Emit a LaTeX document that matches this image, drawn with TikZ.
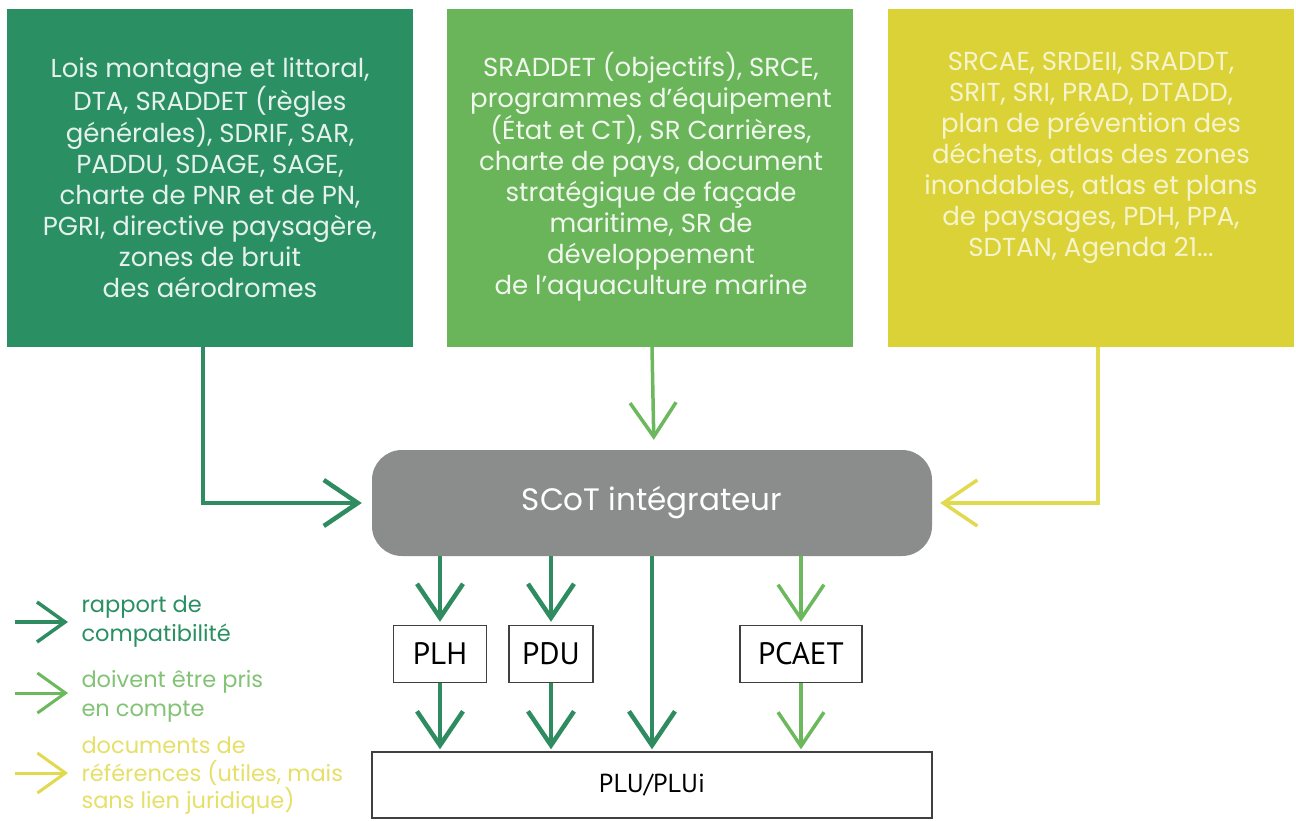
\documentclass[tikz,border=0pt]{standalone}
\usepackage{fontspec}
\setmainfont{Poppins}
\newfontfamily\narrowfont{PT Sans}
\usetikzlibrary{arrows.meta}
\definecolor{cA}{HTML}{2A8F62}
\definecolor{cB}{HTML}{6AB55A}
\definecolor{cC}{HTML}{DAD236}
\definecolor{cG}{HTML}{8A8D8C}
\definecolor{cAr}{HTML}{2E8C60}
\definecolor{cBr}{HTML}{6CB85C}
\definecolor{cCr}{HTML}{E2DA4E}
\begin{document}
\begin{tikzpicture}[x=1pt,y=-1pt,
  srcbox/.style={minimum width=406pt, minimum height=338pt, inner sep=0pt},
  boxtext/.style={align=center, font=\fontsize{26}{31}\selectfont},
  bighead/.style={-{Straight Barb[length=34pt,width=46pt]}},
  smallhead/.style={-{Straight Barb[length=28pt,width=40pt]}},
  docbox/.style={draw=black!75, line width=1.4pt, fill=white, inner sep=0pt, font=\narrowfont\fontsize{31}{31}\selectfont},
  legtext/.style={anchor=west, align=left, font=\fontsize{22.5}{29}\selectfont}
]
\useasboundingbox[fill=white] (0,0) rectangle (1296,821);

% source boxes
\node[srcbox, fill=cA] (A) at (210,178) {};
\node[srcbox, fill=cB] (B) at (650,178) {};
\node[srcbox, fill=cC] (C) at (1091,178) {};

\node[boxtext, text=white!88!cA] (At) at (210,178) {Lois montagne et littoral,\\DTA, SRADDET (règles\\générales), SDRIF, SAR,\\PADDU, SDAGE, SAGE,\\charte de PNR et de PN,\\PGRI, directive paysagère,\\zones de bruit\\des aérodromes};
\node[boxtext, text=white!90!cB] (Bt) at (651,177) {SRADDET (objectifs), SRCE,\\programmes d’équipement\\(État et CT), SR Carrières,\\charte de pays, document\\stratégique de façade\\maritime, SR de\\développement\\de l’aquaculture marine};
\node[boxtext, text=white!75!cC] (Ct) at (1091,158) {SRCAE, SRDEII, SRADDT,\\SRIT, SRI, PRAD, DTADD,\\plan de prévention des\\déchets, atlas des zones\\inondables, atlas et plans\\de paysages, PDH, PPA,\\SDTAN, Agenda 21...};

% SCoT
\node[fill=cG, rounded corners=30pt, minimum width=560pt, minimum height=106pt, inner sep=0pt,
      text=white, font=\fontsize{31}{31}\selectfont] (S) at (652,503) {SCoT intégrateur};

% documents
\node[docbox, minimum width=93pt, minimum height=57pt] (P1) at (440,654) {PLH};
\node[docbox, minimum width=84pt, minimum height=57pt] (P2) at (551,654) {PDU};
\node[docbox, minimum width=122pt, minimum height=57pt] (P3) at (801,654) {PCAET};
\node[docbox, minimum width=560pt, minimum height=66pt, font=\narrowfont\fontsize{26}{26}\selectfont] (U) at (652,785) {PLU/PLUi};

% connectors to SCoT
\draw[bighead, cAr, line width=4.5pt, shorten >=10pt] ([xshift=-7pt]A.south) |- (S.west);
\draw[bighead, cBr, line width=3.5pt, shorten >=10pt] ([xshift=2pt]B.south) -- ([xshift=2pt]S.north);
\draw[bighead, cCr, line width=3.5pt, shorten >=8pt] ([xshift=7pt]C.south) |- (S.east);

% SCoT to documents
\draw[bighead, cAr, line width=4.5pt, shorten >=3pt] (S.south -| P1.north) -- (P1.north);
\draw[bighead, cAr, line width=4.5pt, shorten >=3pt] (S.south -| P2.north) -- (P2.north);
\draw[bighead, cBr, line width=3.5pt, shorten >=3pt] (S.south -| P3.north) -- (P3.north);
\draw[bighead, cAr, line width=4.5pt, shorten >=2pt] (S.south) -- (U.north);
\draw[bighead, cAr, line width=4.5pt, shorten >=2pt] (P1.south) -- (P1.south |- U.north);
\draw[bighead, cAr, line width=4.5pt, shorten >=2pt] (P2.south) -- (P2.south |- U.north);
\draw[bighead, cBr, line width=3.5pt, shorten >=2pt] (P3.south) -- (P3.south |- U.north);

% legend
\coordinate (L1a) at (15,622); \coordinate (L1b) at (68,622);
\coordinate (L2a) at (15,693); \coordinate (L2b) at (68,693);
\coordinate (L3a) at (15,773); \coordinate (L3b) at (68,773);
\draw[smallhead, cAr, line width=3.5pt] (L1a) -- (L1b);
\draw[smallhead, cBr, line width=3pt] (L2a) -- (L2b);
\draw[smallhead, cCr, line width=3pt] (L3a) -- (L3b);
\node[legtext, text=cA] (T1) at (78,622) {rapport de\\compatibilité};
\node[legtext, text=cBr!85!white] (T2) at (78,696) {doivent être pris\\en compte};
\node[legtext, text=cCr!85!white, font=\fontsize{22.5}{27.5}\selectfont] (T3) at (78,776) {documents de\\références (utiles, mais\\sans lien juridique)};
\end{tikzpicture}
\end{document}
